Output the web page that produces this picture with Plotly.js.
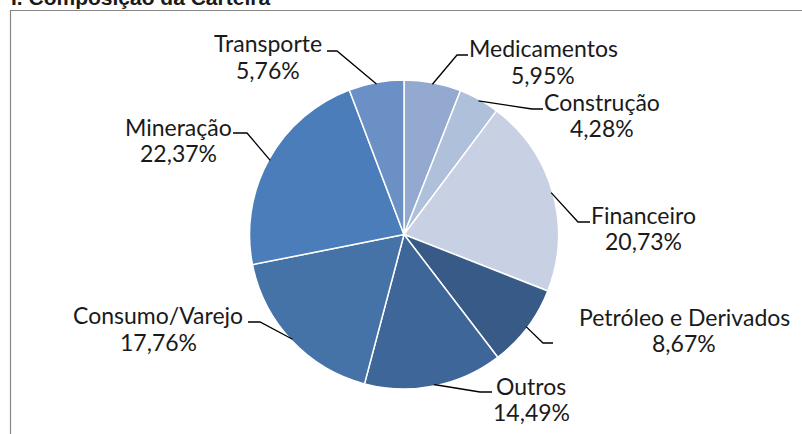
<!DOCTYPE html>
<html>
<head>
<meta charset="utf-8">
<script src="https://cdn.plot.ly/plotly-3.0.1.min.js"></script>
<style>html,body{margin:0;padding:0;background:#fff;}#chart{width:802px;height:434px;}</style>
</head>
<body>
<div id="chart"></div>
<script>
// ---- data ----
const categories = ["Medicamentos", "Construção", "Financeiro", "Petróleo e Derivados", "Outros", "Consumo/Varejo", "Mineração", "Transporte"];
const shares = [5.95, 4.28, 20.73, 8.67, 14.49, 17.76, 22.37, 5.76];
const colors = ["#93A9CF", "#AFC0DB", "#C8D1E3", "#375A87", "#3E6698", "#4572A7", "#4A7DBA", "#6A90C5"];
const chartTitle = "I. Composição da Carteira";

// ---- layout helpers (pixel geometry) ----
const W = 802, H = 434;
const cx = 404, cy = 234.5, R = 154.5;
const X = px => px / W;
const Y = py => 1 - py / H;

// label block centers (x, first line y, second line y) and leader elbows/ends (pixels), per category
const labelPos = [[543, 48, 75], [602, 102, 128], [643, 215, 241], [684, 317, 343], [531, 386, 412], [158, 315, 342], [178, 127, 153], [268, 43, 70]];
const elbows = [[[457, 55], [468, 55]], [[532, 109], [543, 109]], [[578, 222], [590, 222]], [[543, 343], [553, 343]],
                [[480, 392], [492, 392]], [[260, 322], [248, 322]], [[247, 133], [233, 133]], [[337, 51], [327, 51]]];

const total = shares.reduce((a, b) => a + b, 0);
const annotations = [];
const shapes = [];
const labelFont = {family: 'Lato', size: 23, color: '#1a1a1a'};
let cum = 0;
shares.forEach((v, i) => {
  const mid = (cum + v / 2) / total * 2 * Math.PI;
  cum += v;
  const ex = cx + R * 0.99 * Math.sin(mid);
  const ey = cy - R * 0.99 * Math.cos(mid);
  const [e1, e2] = elbows[i];
  shapes.push({
    type: 'path', xref: 'paper', yref: 'paper',
    path: `M ${X(ex)},${Y(ey)} L ${X(e1[0])},${Y(e1[1])} L ${X(e2[0])},${Y(e2[1])}`,
    line: {color: '#000', width: 1.3}
  });
  const [lx, ly1, ly2] = labelPos[i];
  annotations.push({
    xref: 'paper', yref: 'paper', x: X(lx), y: Y(ly1),
    xanchor: 'center', yanchor: 'middle', align: 'center', showarrow: false,
    text: categories[i], font: labelFont
  });
  annotations.push({
    xref: 'paper', yref: 'paper', x: X(lx), y: Y(ly2),
    xanchor: 'center', yanchor: 'middle', align: 'center', showarrow: false,
    text: v.toFixed(2).replace('.', ',') + '%', font: labelFont
  });
});

// title (cut off at the top in the reference)
annotations.push({
  xref: 'paper', yref: 'paper', x: X(9), y: Y(11), xanchor: 'left', yanchor: 'bottom',
  showarrow: false, text: '<b>' + chartTitle + '</b>', font: {family: 'Liberation Sans', size: 21, color: '#1a1a1a'}
});

// chart border (extends beyond the window on the right and bottom)
shapes.push({type: 'rect', xref: 'paper', yref: 'paper', x0: X(10.5), y0: Y(10.5), x1: X(810), y1: Y(450),
  line: {color: '#888', width: 1.2}, fillcolor: 'rgba(0,0,0,0)', layer: 'below'});

const trace = {
  type: 'pie', labels: categories, values: shares, sort: false, direction: 'clockwise', rotation: 0,
  marker: {colors: colors, line: {color: '#fff', width: 1.5}},
  textinfo: 'none', hoverinfo: 'label+percent',
  domain: {x: [X(cx - R), X(cx + R)], y: [1 - (cy + R) / H, 1 - (cy - R) / H]}
};

Plotly.newPlot('chart', [trace], {
  width: W, height: H, margin: {l: 0, r: 0, t: 0, b: 0},
  showlegend: false, paper_bgcolor: '#fff', plot_bgcolor: '#fff',
  annotations: annotations, shapes: shapes
}, {displayModeBar: false, staticPlot: true});
</script>
</body>
</html>
